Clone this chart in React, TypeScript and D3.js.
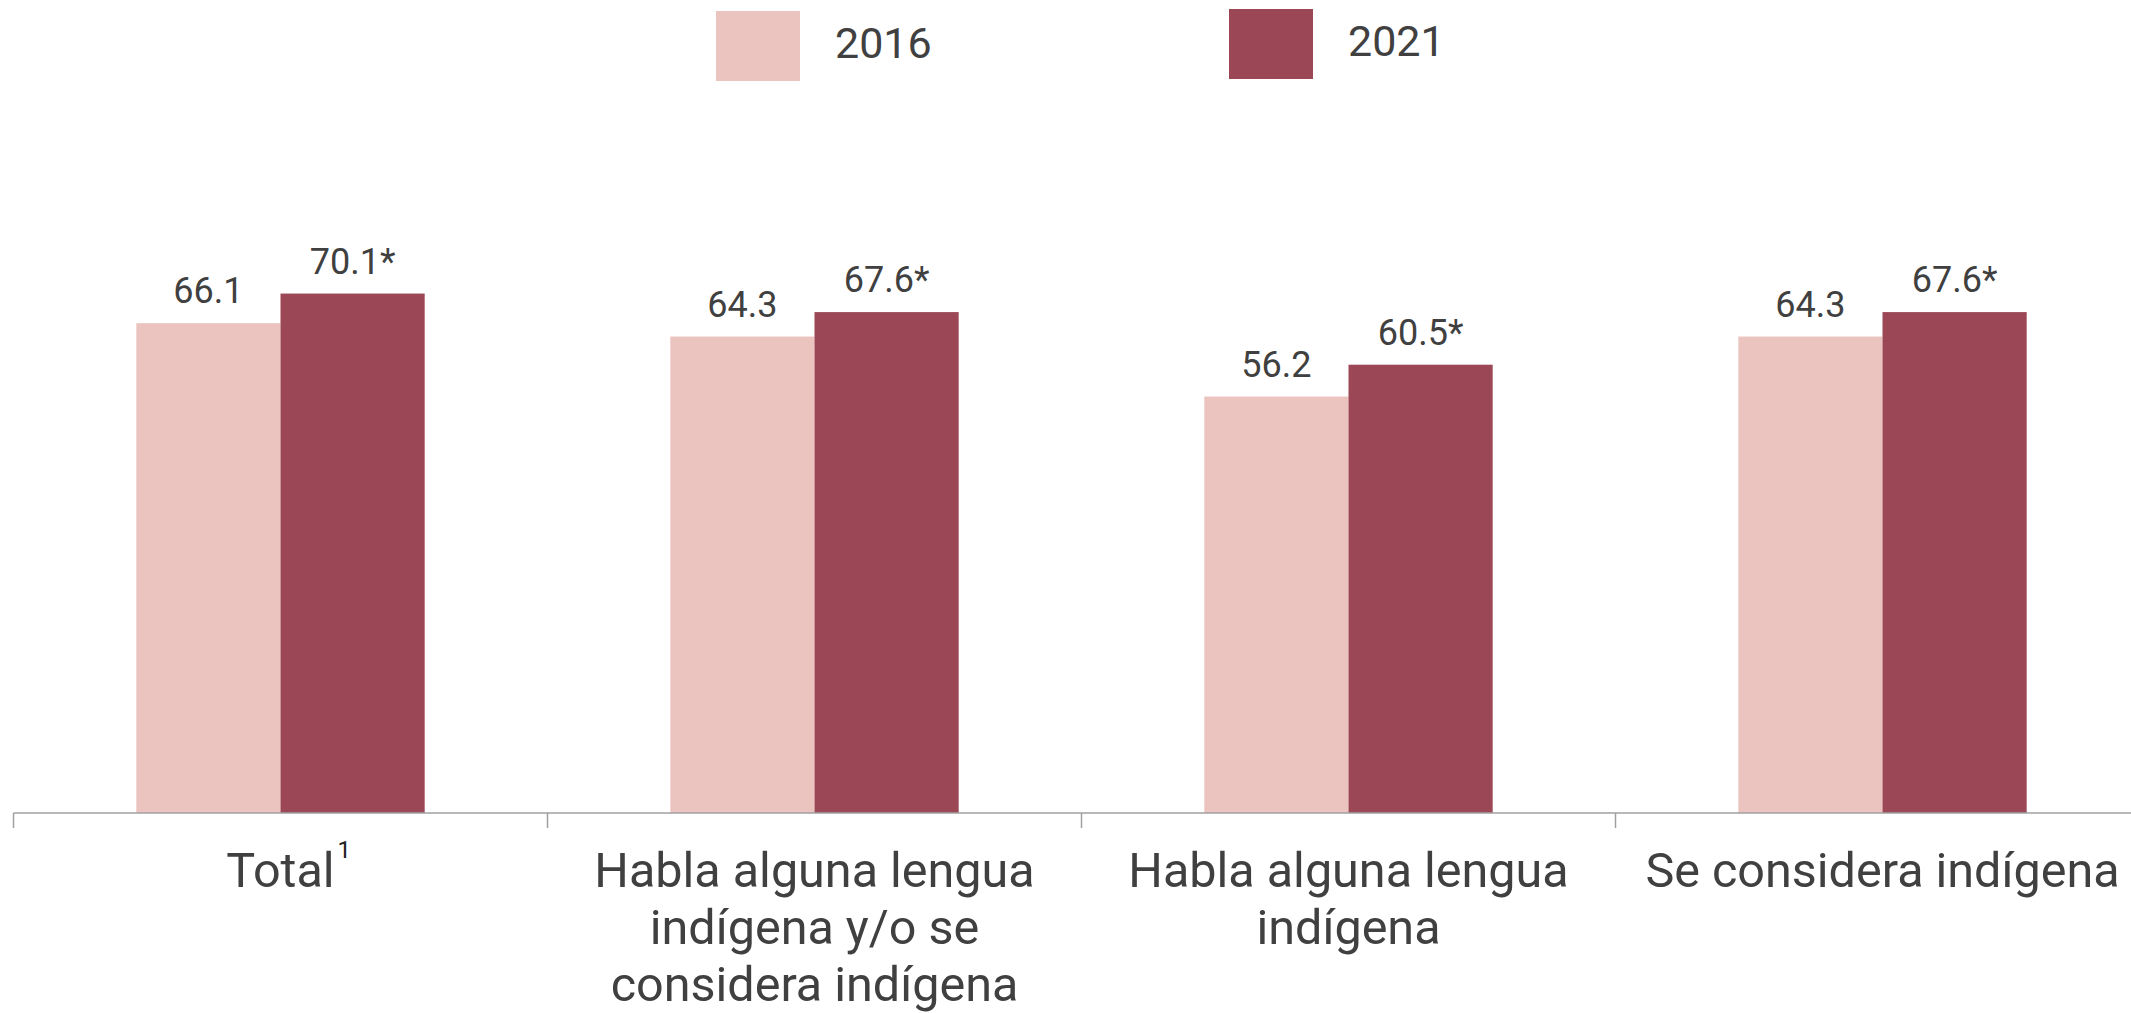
import React, { useEffect, useRef } from "react";
import * as d3 from "d3";

// categories (lines of the axis label) and the two series
const categories = [
  ["Total"],
  ["Habla alguna lengua", "indígena y/o se", "considera indígena"],
  ["Habla alguna lengua", "indígena"],
  ["Se considera indígena"],
];
const series = ["2016", "2021"];
const values2016 = [66.1, 64.3, 56.2, 64.3];
const values2021 = [70.1, 67.6, 60.5, 67.6];
const labels2016 = ["66.1", "64.3", "56.2", "64.3"];
const labels2021 = ["70.1*", "67.6*", "60.5*", "67.6*"];
const colors = ["#ebc4c0", "#9b4755"];

const App = () => {
  const ref = useRef<HTMLDivElement>(null);

  useEffect(() => {
    document.body.style.margin = "0";
    const width = 2131;
    const height = 1013;
    const font = "Roboto, sans-serif";
    const textColor = "#404040";

    d3.select(ref.current).select("svg").remove();

    const svg = d3
      .select(ref.current)
      .append("svg")
      .attr("width", width)
      .attr("height", height)
      .style("display", "block")
      .style("font-family", font);

    const keys = categories.map((_, i) => String(i));

    const x0 = d3.scaleBand().domain(keys).range([13.5, 13.5 + 4 * 534]).padding(0);
    const bw = x0.bandwidth();
    const x1 = d3.scaleBand().domain(series).range([bw * 0.23, bw * 0.77]).padding(0);
    const y = d3.scaleLinear().domain([0, 100]).range([813, 72]);

    const rows = keys.map((k, i) => ({
      key: k,
      items: [
        { s: series[0], v: values2016[i], label: labels2016[i], color: colors[0] },
        { s: series[1], v: values2021[i], label: labels2021[i], color: colors[1] },
      ],
    }));

    const groups = svg
      .selectAll("g.grp")
      .data(rows)
      .enter()
      .append("g")
      .attr("class", "grp")
      .attr("transform", (d) => `translate(${x0(d.key)},0)`);

    groups
      .selectAll("rect")
      .data((d) => d.items)
      .enter()
      .append("rect")
      .attr("x", (d) => x1(d.s)!)
      .attr("width", x1.bandwidth())
      .attr("y", (d) => y(d.v))
      .attr("height", (d) => y(0) - y(d.v))
      .attr("fill", (d) => d.color);

    groups
      .selectAll("text.val")
      .data((d) => d.items)
      .enter()
      .append("text")
      .attr("class", "val")
      .attr("x", (d) => x1(d.s)! + x1.bandwidth() / 2)
      .attr("y", (d) => y(d.v) - 20)
      .attr("text-anchor", "middle")
      .style("font-size", "36px")
      .style("fill", textColor)
      .text((d) => d.label);

    // axis line + ticks at band edges
    svg
      .append("line")
      .attr("x1", x0.range()[0])
      .attr("x2", width)
      .attr("y1", y(0))
      .attr("y2", y(0))
      .attr("stroke", "#a0a0a0")
      .attr("stroke-width", 1.5);

    svg
      .selectAll("line.tick")
      .data(keys)
      .enter()
      .append("line")
      .attr("class", "tick")
      .attr("x1", (d) => x0(d)!)
      .attr("x2", (d) => x0(d)!)
      .attr("y1", y(0))
      .attr("y2", y(0) + 15)
      .attr("stroke", "#a0a0a0")
      .attr("stroke-width", 1.5);

    // category labels
    const catText = svg
      .selectAll("text.cat")
      .data(categories)
      .enter()
      .append("text")
      .attr("class", "cat")
      .attr("text-anchor", "middle")
      .style("font-size", "48.5px")
      .style("fill", textColor);

    catText
      .selectAll("tspan")
      .data((d, i) => d.map((line) => ({ line, i })))
      .enter()
      .append("tspan")
      .attr("x", (d) => x0(String(d.i))! + bw / 2)
      .attr("y", (_, j) => 887 + j * 57)
      .text((d) => d.line);

    // superscript on "Total"
    svg
      .append("text")
      .attr("x", x0("0")! + bw / 2 + 57)
      .attr("y", 858)
      .style("font-size", "24px")
      .style("fill", "#222")
      .text("1");

    // legend
    const legendX = [716, 1229];
    const leg = svg
      .selectAll("g.leg")
      .data(series)
      .enter()
      .append("g")
      .attr("class", "leg")
      .attr("transform", (_, i) => `translate(${legendX[i]},${i === 0 ? 11 : 9})`);

    leg
      .append("rect")
      .attr("width", 84)
      .attr("height", 70)
      .attr("fill", (_, i) => colors[i]);

    leg
      .append("text")
      .attr("x", 119)
      .attr("y", 47)
      .style("font-size", "43px")
      .style("fill", textColor)
      .text((d) => d);
  }, []);

  return <div ref={ref} />;
};

export default App;
